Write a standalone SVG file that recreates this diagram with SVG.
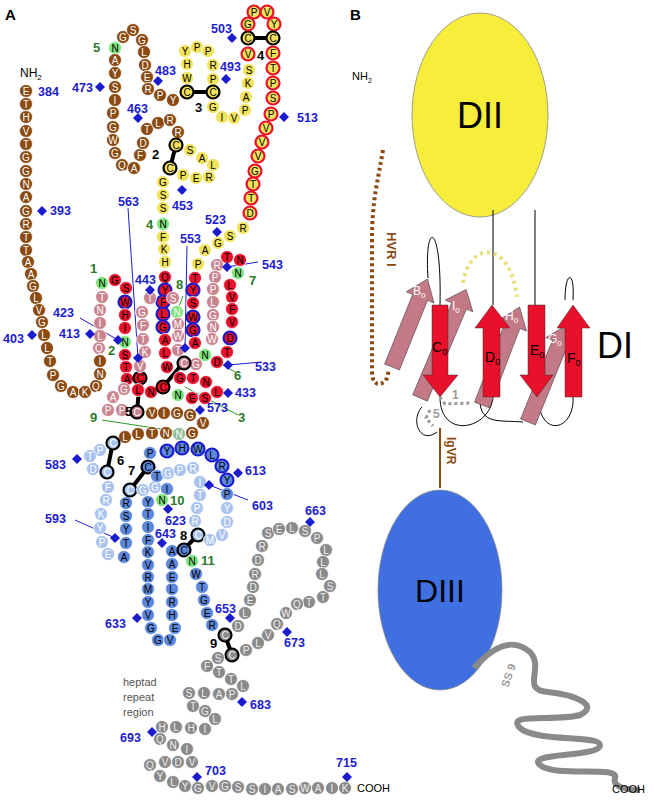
<svg xmlns="http://www.w3.org/2000/svg" width="656" height="800" viewBox="0 0 656 800">
<style>
circle{stroke:#fff;stroke-width:0.8}
.br{fill:#8a4a12}.ye{fill:#f2e35c}.rd{fill:#e8102a}.pk{fill:#c98490}.gn{fill:#7ce37c}.lb{fill:#a9c2ee}.db{fill:#5c87db}.gy{fill:#8a8a8a}.gg{fill:#8fbf9a}
.ob{stroke:#1c1ccf;stroke-width:2.2}.or{stroke:#e8102a;stroke-width:2.2}.ok{stroke:#000;stroke-width:2.2}
text{font-family:"Liberation Sans",Arial,sans-serif}
.l{font-size:10px;text-anchor:middle;dominant-baseline:central}
.w{fill:#fff}.k{fill:#000}.g{fill:#eee}
.n{font-size:12.5px;font-weight:bold;fill:#1c1ccf}
.gl{font-size:13px;font-weight:bold;fill:#2a7a2a}
.bl{font-size:13px;font-weight:bold;fill:#000}
.dm{fill:#1c1ccf}
.ss{stroke:#000;stroke-width:4;stroke-linecap:round}
</style>
<defs><path id="d" d="M0,-5 L5,0 L0,5 L-5,0Z" class="dm"/></defs>
<text x="5" y="20" font-size="15" font-weight="bold">A</text>
<text x="350" y="20" font-size="15" font-weight="bold">B</text>
<text x="20" y="77" font-size="12">NH<tspan font-size="8" dy="3">2</tspan></text>
<g id="connectors">
<g stroke="#1c1ccf" stroke-width="1">
<line x1="80" y1="318" x2="118" y2="340"/><line x1="128" y1="208" x2="138" y2="358"/><line x1="187" y1="246" x2="185" y2="348"/>
<line x1="262" y1="362" x2="228" y2="365"/><line x1="258" y1="262" x2="227" y2="267"/><line x1="75" y1="520" x2="115" y2="538"/><line x1="248" y1="500" x2="209" y2="485"/>
</g>
<g stroke="#2a9a2a" stroke-width="1"><line x1="102" y1="420" x2="180" y2="432"/><line x1="185" y1="387" x2="238" y2="415"/><line x1="205" y1="355" x2="235" y2="372"/><line x1="177" y1="312" x2="183" y2="296"/></g>
<g class="ss"><line x1="176" y1="145" x2="170" y2="168"/><line x1="187" y1="92" x2="213" y2="92"/><line x1="248" y1="38" x2="273" y2="38"/><line x1="140" y1="378" x2="137" y2="412"/><line x1="183" y1="363" x2="163" y2="387"/><line x1="113" y1="442" x2="107" y2="472"/><line x1="148" y1="467" x2="130" y2="490"/><line x1="198" y1="535" x2="183" y2="550"/><line x1="225" y1="635" x2="232" y2="655"/></g>
</g>
<g id="beads">
<g id="nterm">
<circle class="br" cx="26" cy="91" r="6.5"/><text class="l w" x="26" y="91">E</text>
<circle class="br" cx="26" cy="104" r="6.5"/><text class="l w" x="26" y="104">T</text>
<circle class="br" cx="26" cy="117" r="6.5"/><text class="l w" x="26" y="117">H</text>
<circle class="br" cx="26" cy="131" r="6.5"/><text class="l w" x="26" y="131">V</text>
<circle class="br" cx="26" cy="144" r="6.5"/><text class="l w" x="26" y="144">T</text>
<circle class="br" cx="26" cy="157" r="6.5"/><text class="l w" x="26" y="157">G</text>
<circle class="br" cx="26" cy="171" r="6.5"/><text class="l w" x="26" y="171">G</text>
<circle class="br" cx="26" cy="184" r="6.5"/><text class="l w" x="26" y="184">N</text>
<circle class="br" cx="26" cy="197" r="6.5"/><text class="l w" x="26" y="197">A</text>
<circle class="br" cx="26" cy="211" r="6.5"/><text class="l w" x="26" y="211">G</text>
<circle class="br" cx="26" cy="224" r="6.5"/><text class="l w" x="26" y="224">R</text>
<circle class="br" cx="26" cy="237" r="6.5"/><text class="l w" x="26" y="237">T</text>
<circle class="br" cx="26" cy="250" r="6.5"/><text class="l w" x="26" y="250">T</text>
<circle class="br" cx="28" cy="262" r="6.5"/><text class="l w" x="28" y="262">A</text>
<circle class="br" cx="31" cy="274" r="6.5"/><text class="l w" x="31" y="274">A</text>
<circle class="br" cx="33" cy="286" r="6.5"/><text class="l w" x="33" y="286">G</text>
<circle class="br" cx="36" cy="298" r="6.5"/><text class="l w" x="36" y="298">L</text>
<circle class="br" cx="39" cy="310" r="6.5"/><text class="l w" x="39" y="310">V</text>
<circle class="br" cx="42" cy="322" r="6.5"/><text class="l w" x="42" y="322">G</text>
<circle class="br" cx="44" cy="335" r="6.5"/><text class="l w" x="44" y="335">L</text>
<circle class="br" cx="47" cy="348" r="6.5"/><text class="l w" x="47" y="348">L</text>
<circle class="br" cx="50" cy="361" r="6.5"/><text class="l w" x="50" y="361">T</text>
<circle class="br" cx="53" cy="375" r="6.5"/><text class="l w" x="53" y="375">P</text>
<circle class="br" cx="61" cy="386" r="6.5"/><text class="l w" x="61" y="386">G</text>
<circle class="br" cx="73" cy="392" r="6.5"/><text class="l w" x="73" y="392">A</text>
<circle class="br" cx="85" cy="392" r="6.5"/><text class="l w" x="85" y="392">K</text>
<circle class="br" cx="96" cy="386" r="6.5"/><text class="l w" x="96" y="386">Q</text>
<circle class="br" cx="100" cy="374" r="6.5"/><text class="l w" x="100" y="374">N</text>
<circle class="br" cx="100" cy="361" r="6.5"/><text class="l w" x="100" y="361">I</text>
<circle class="pk" cx="99" cy="348" r="6.5"/><text class="l w" x="99" y="348">Q</text>
<circle class="pk" cx="100" cy="336" r="6.5"/><text class="l w" x="100" y="336">L</text>
<circle class="pk" cx="100" cy="323" r="6.5"/><text class="l w" x="100" y="323">I</text>
<circle class="pk" cx="100" cy="310" r="6.5"/><text class="l w" x="100" y="310">N</text>
<circle class="pk" cx="102" cy="297" r="6.5"/><text class="l w" x="102" y="297">T</text>
<circle class="gn" cx="102" cy="283" r="6.5"/><text class="l k" x="102" y="283">N</text>
</g>
<g id="brownloop">
<circle class="gn" cx="115" cy="48" r="6.5"/><text class="l k" x="115" y="48">N</text>
<circle class="br" cx="123" cy="37" r="6.5"/><text class="l w" x="123" y="37">G</text>
<circle class="br" cx="133" cy="30" r="6.5"/><text class="l w" x="133" y="30">S</text>
<circle class="br" cx="142" cy="40" r="6.5"/><text class="l w" x="142" y="40">G</text>
<circle class="br" cx="144" cy="52" r="6.5"/><text class="l w" x="144" y="52">L</text>
<circle class="br" cx="145" cy="65" r="6.5"/><text class="l w" x="145" y="65">D</text>
<circle class="br" cx="147" cy="77" r="6.5"/><text class="l w" x="147" y="77">E</text>
<circle class="br" cx="148" cy="89" r="6.5"/><text class="l w" x="148" y="89">R</text>
<circle class="br" cx="160" cy="95" r="6.5"/><text class="l w" x="160" y="95">P</text>
<circle class="br" cx="173" cy="100" r="6.5"/><text class="l w" x="173" y="100">Y</text>
<circle class="br" cx="115" cy="60" r="6.5"/><text class="l w" x="115" y="60">A</text>
<circle class="br" cx="115" cy="73" r="6.5"/><text class="l w" x="115" y="73">Y</text>
<circle class="br" cx="115" cy="87" r="6.5"/><text class="l w" x="115" y="87">S</text>
<circle class="br" cx="115" cy="100" r="6.5"/><text class="l w" x="115" y="100">I</text>
<circle class="br" cx="113" cy="113" r="6.5"/><text class="l w" x="113" y="113">P</text>
<circle class="br" cx="113" cy="127" r="6.5"/><text class="l w" x="113" y="127">G</text>
<circle class="br" cx="113" cy="140" r="6.5"/><text class="l w" x="113" y="140">W</text>
<circle class="br" cx="115" cy="153" r="6.5"/><text class="l w" x="115" y="153">G</text>
<circle class="br" cx="122" cy="165" r="6.5"/><text class="l w" x="122" y="165">Q</text>
<circle class="br" cx="134" cy="168" r="6.5"/><text class="l w" x="134" y="168">A</text>
<circle class="br" cx="140" cy="155" r="6.5"/><text class="l w" x="140" y="155">F</text>
<circle class="br" cx="143" cy="143" r="6.5"/><text class="l w" x="143" y="143">D</text>
<circle class="br" cx="147" cy="129" r="6.5"/><text class="l w" x="147" y="129">T</text>
<circle class="br" cx="158" cy="123" r="6.5"/><text class="l w" x="158" y="123">L</text>
<circle class="br" cx="170" cy="120" r="6.5"/><text class="l w" x="170" y="120">R</text>
<circle class="br" cx="178" cy="132" r="6.5"/><text class="l w" x="178" y="132">R</text>
</g>
<g id="yellow">
<circle class="ye ok" cx="176" cy="145" r="6.5"/><text class="l k" x="176" y="145">C</text>
<circle class="ye ok" cx="170" cy="168" r="6.5"/><text class="l k" x="170" y="168">C</text>
<circle class="ye" cx="190" cy="150" r="6.5"/><text class="l k" x="190" y="150">S</text>
<circle class="ye" cx="202" cy="158" r="6.5"/><text class="l k" x="202" y="158">A</text>
<circle class="ye" cx="213" cy="165" r="6.5"/><text class="l k" x="213" y="165">L</text>
<circle class="ye" cx="209" cy="177" r="6.5"/><text class="l k" x="209" y="177">R</text>
<circle class="ye" cx="196" cy="178" r="6.5"/><text class="l k" x="196" y="178">E</text>
<circle class="ye" cx="183" cy="175" r="6.5"/><text class="l k" x="183" y="175">P</text>
<circle class="ye" cx="163" cy="182" r="6.5"/><text class="l k" x="163" y="182">G</text>
<circle class="ye" cx="163" cy="195" r="6.5"/><text class="l k" x="163" y="195">S</text>
<circle class="ye" cx="163" cy="208" r="6.5"/><text class="l k" x="163" y="208">S</text>
<circle class="gn" cx="163" cy="224" r="6.5"/><text class="l k" x="163" y="224">N</text>
<circle class="ye" cx="163" cy="237" r="6.5"/><text class="l k" x="163" y="237">F</text>
<circle class="ye" cx="164" cy="249" r="6.5"/><text class="l k" x="164" y="249">K</text>
<circle class="ye" cx="165" cy="262" r="6.5"/><text class="l k" x="165" y="262">H</text>
<circle class="ye" cx="185" cy="51" r="6.5"/><text class="l k" x="185" y="51">Y</text>
<circle class="ye" cx="197" cy="47" r="6.5"/><text class="l k" x="197" y="47">P</text>
<circle class="ye" cx="208" cy="51" r="6.5"/><text class="l k" x="208" y="51">P</text>
<circle class="ye" cx="187" cy="64" r="6.5"/><text class="l k" x="187" y="64">H</text>
<circle class="ye" cx="187" cy="78" r="6.5"/><text class="l k" x="187" y="78">W</text>
<circle class="ye ok" cx="187" cy="92" r="6.5"/><text class="l k" x="187" y="92">C</text>
<circle class="ye" cx="213" cy="65" r="6.5"/><text class="l k" x="213" y="65">R</text>
<circle class="ye" cx="213" cy="79" r="6.5"/><text class="l k" x="213" y="79">P</text>
<circle class="ye ok" cx="213" cy="92" r="6.5"/><text class="l k" x="213" y="92">C</text>
<circle class="ye" cx="213" cy="107" r="6.5"/><text class="l k" x="213" y="107">G</text>
<circle class="ye" cx="222" cy="117" r="6.5"/><text class="l k" x="222" y="117">I</text>
<circle class="ye" cx="234" cy="118" r="6.5"/><text class="l k" x="234" y="118">V</text>
<circle class="ye" cx="245" cy="110" r="6.5"/><text class="l k" x="245" y="110">P</text>
<circle class="ye" cx="246" cy="97" r="6.5"/><text class="l k" x="246" y="97">A</text>
<circle class="ye" cx="248" cy="83" r="6.5"/><text class="l k" x="248" y="83">K</text>
<circle class="ye" cx="249" cy="70" r="6.5"/><text class="l k" x="249" y="70">S</text>
<circle class="ye or" cx="248" cy="54" r="6.5"/><text class="l k" x="248" y="54">V</text>
<circle class="ye ok" cx="248" cy="38" r="6.5"/><text class="l k" x="248" y="38">C</text>
<circle class="ye or" cx="248" cy="24" r="6.5"/><text class="l k" x="248" y="24">G</text>
<circle class="ye or" cx="254" cy="12" r="6.5"/><text class="l k" x="254" y="12">P</text>
<circle class="ye or" cx="267" cy="12" r="6.5"/><text class="l k" x="267" y="12">V</text>
<circle class="ye or" cx="274" cy="24" r="6.5"/><text class="l k" x="274" y="24">Y</text>
<circle class="ye ok" cx="273" cy="38" r="6.5"/><text class="l k" x="273" y="38">C</text>
<circle class="ye or" cx="273" cy="53" r="6.5"/><text class="l k" x="273" y="53">F</text>
<circle class="ye or" cx="273" cy="68" r="6.5"/><text class="l k" x="273" y="68">T</text>
<circle class="ye or" cx="273" cy="83" r="6.5"/><text class="l k" x="273" y="83">P</text>
<circle class="ye or" cx="273" cy="98" r="6.5"/><text class="l k" x="273" y="98">S</text>
<circle class="ye or" cx="271" cy="114" r="6.5"/><text class="l k" x="271" y="114">P</text>
<circle class="ye or" cx="266" cy="128" r="6.5"/><text class="l k" x="266" y="128">V</text>
<circle class="ye or" cx="262" cy="142" r="6.5"/><text class="l k" x="262" y="142">V</text>
<circle class="ye or" cx="258" cy="156" r="6.5"/><text class="l k" x="258" y="156">V</text>
<circle class="ye or" cx="255" cy="171" r="6.5"/><text class="l k" x="255" y="171">G</text>
<circle class="ye or" cx="253" cy="184" r="6.5"/><text class="l k" x="253" y="184">T</text>
<circle class="ye or" cx="251" cy="198" r="6.5"/><text class="l k" x="251" y="198">T</text>
<circle class="ye or" cx="250" cy="213" r="6.5"/><text class="l k" x="250" y="213">D</text>
<circle class="ye" cx="243" cy="228" r="6.5"/><text class="l k" x="243" y="228">R</text>
<circle class="ye" cx="230" cy="236" r="6.5"/><text class="l k" x="230" y="236">S</text>
<circle class="ye" cx="218" cy="243" r="6.5"/><text class="l k" x="218" y="243">G</text>
<circle class="ye" cx="205" cy="250" r="6.5"/><text class="l k" x="205" y="250">A</text>
<circle class="ye" cx="198" cy="264" r="6.5"/><text class="l k" x="198" y="264">P</text>
</g>
<g id="di">
<circle class="rd" cx="115" cy="280" r="6.5"/><text class="l k" x="115" y="280">G</text>
<circle class="rd" cx="126" cy="288" r="6.5"/><text class="l k" x="126" y="288">S</text>
<circle class="rd ob" cx="125" cy="302" r="6.5"/><text class="l k" x="125" y="302">W</text>
<circle class="rd" cx="125" cy="315" r="6.5"/><text class="l k" x="125" y="315">H</text>
<circle class="rd" cx="125" cy="328" r="6.5"/><text class="l k" x="125" y="328">I</text>
<circle class="gn" cx="125" cy="342" r="6.5"/><text class="l k" x="125" y="342">N</text>
<circle class="rd" cx="125" cy="355" r="6.5"/><text class="l k" x="125" y="355">S</text>
<circle class="rd" cx="126" cy="367" r="6.5"/><text class="l k" x="126" y="367">T</text>
<circle class="rd" cx="127" cy="379" r="6.5"/><text class="l k" x="127" y="379">A</text>
<circle class="rd ok" cx="140" cy="378" r="6.5"/><text class="l k" x="140" y="378">C</text>
<circle class="rd" cx="138" cy="390" r="6.5"/><text class="l k" x="138" y="390">L</text>
<circle class="rd" cx="151" cy="392" r="6.5"/><text class="l k" x="151" y="392">N</text>
<circle class="rd ok" cx="163" cy="387" r="6.5" fill="#b00018"/><text class="l k" x="163" y="387">C</text>
<circle class="rd" cx="180" cy="378" r="6.5"/><text class="l k" x="180" y="378">G</text>
<circle class="rd" cx="193" cy="378" r="6.5"/><text class="l k" x="193" y="378">T</text>
<circle class="rd" cx="206" cy="382" r="6.5"/><text class="l k" x="206" y="382">N</text>
<circle class="rd" cx="217" cy="392" r="6.5"/><text class="l k" x="217" y="392">L</text>
<circle class="rd" cx="205" cy="398" r="6.5"/><text class="l k" x="205" y="398">S</text>
<circle class="rd" cx="192" cy="398" r="6.5"/><text class="l k" x="192" y="398">E</text>
<circle class="gn" cx="178" cy="395" r="6.5"/><text class="l k" x="178" y="395">N</text>
<circle class="pk" cx="124" cy="389" r="6.5"/><text class="l w" x="124" y="389">G</text>
<circle class="pk" cx="113" cy="397" r="6.5"/><text class="l w" x="113" y="397">A</text>
<circle class="pk" cx="108" cy="410" r="6.5"/><text class="l w" x="108" y="410">P</text>
<circle class="pk" cx="122" cy="410" r="6.5"/><text class="l w" x="122" y="410">P</text>
<circle class="pk ok" cx="137" cy="412" r="6.5"/><text class="l w" x="137" y="412">C</text>
<circle class="rd" cx="165" cy="277" r="6.5"/><text class="l k" x="165" y="277">Q</text>
<circle class="rd ob" cx="165" cy="290" r="6.5"/><text class="l k" x="165" y="290">Y</text>
<circle class="rd ob" cx="163" cy="302" r="6.5"/><text class="l k" x="163" y="302">F</text>
<circle class="rd ob" cx="163" cy="314" r="6.5"/><text class="l k" x="163" y="314">L</text>
<circle class="rd ob" cx="163" cy="327" r="6.5"/><text class="l k" x="163" y="327">G</text>
<circle class="rd" cx="165" cy="340" r="6.5"/><text class="l k" x="165" y="340">A</text>
<circle class="rd" cx="165" cy="353" r="6.5"/><text class="l k" x="165" y="353">L</text>
<circle class="rd" cx="167" cy="367" r="6.5"/><text class="l k" x="167" y="367">W</text>
<circle class="rd" cx="195" cy="278" r="6.5"/><text class="l k" x="195" y="278">T</text>
<circle class="rd ob" cx="193" cy="290" r="6.5"/><text class="l k" x="193" y="290">Y</text>
<circle class="rd" cx="193" cy="303" r="6.5"/><text class="l k" x="193" y="303">S</text>
<circle class="rd ob" cx="193" cy="317" r="6.5"/><text class="l k" x="193" y="317">W</text>
<circle class="rd ob" cx="193" cy="330" r="6.5"/><text class="l k" x="193" y="330">G</text>
<circle class="rd" cx="195" cy="343" r="6.5"/><text class="l k" x="195" y="343">A</text>
<circle class="pk" cx="150" cy="298" r="6.5"/><text class="l w" x="150" y="298">T</text>
<circle class="pk" cx="173" cy="298" r="6.5"/><text class="l w" x="173" y="298">S</text>
<circle class="gn" cx="177" cy="312" r="6.5"/><text class="l w" x="177" y="312">N</text>
<circle class="pk" cx="142" cy="312" r="6.5"/><text class="l w" x="142" y="312">G</text>
<circle class="pk" cx="143" cy="325" r="6.5"/><text class="l w" x="143" y="325">F</text>
<circle class="pk" cx="143" cy="339" r="6.5"/><text class="l w" x="143" y="339">T</text>
<circle class="pk" cx="145" cy="352" r="6.5"/><text class="l w" x="145" y="352">K</text>
<circle class="pk" cx="140" cy="366" r="6.5"/><text class="l w" x="140" y="366">V</text>
<circle class="pk" cx="178" cy="324" r="6.5"/><text class="l w" x="178" y="324">M</text>
<circle class="pk" cx="178" cy="336" r="6.5"/><text class="l w" x="178" y="336">W</text>
<circle class="pk" cx="178" cy="350" r="6.5"/><text class="l w" x="178" y="350">T</text>
<circle class="rd" cx="227" cy="257" r="6.5"/><text class="l k" x="227" y="257">T</text>
<circle class="rd" cx="240" cy="260" r="6.5"/><text class="l k" x="240" y="260">N</text>
<circle class="gn" cx="238" cy="273" r="6.5"/><text class="l k" x="238" y="273">N</text>
<circle class="pk" cx="217" cy="265" r="6.5"/><text class="l w" x="217" y="265">R</text>
<circle class="pk" cx="215" cy="277" r="6.5"/><text class="l w" x="215" y="277">P</text>
<circle class="pk" cx="213" cy="289" r="6.5"/><text class="l w" x="213" y="289">P</text>
<circle class="pk" cx="213" cy="302" r="6.5"/><text class="l w" x="213" y="302">L</text>
<circle class="pk" cx="213" cy="315" r="6.5"/><text class="l w" x="213" y="315">G</text>
<circle class="pk" cx="213" cy="327" r="6.5"/><text class="l w" x="213" y="327">N</text>
<circle class="pk" cx="212" cy="339" r="6.5"/><text class="l w" x="212" y="339">W</text>
<circle class="rd" cx="230" cy="285" r="6.5"/><text class="l k" x="230" y="285">L</text>
<circle class="rd" cx="232" cy="297" r="6.5"/><text class="l k" x="232" y="297">V</text>
<circle class="rd" cx="232" cy="309" r="6.5"/><text class="l k" x="232" y="309">F</text>
<circle class="rd" cx="232" cy="322" r="6.5"/><text class="l k" x="232" y="322">V</text>
<circle class="rd ob" cx="230" cy="338" r="6.5"/><text class="l k" x="230" y="338">D</text>
<circle class="rd" cx="227" cy="352" r="6.5"/><text class="l k" x="227" y="352">T</text>
<circle class="rd" cx="217" cy="362" r="6.5"/><text class="l k" x="217" y="362">D</text>
<circle class="gn" cx="205" cy="355" r="6.5"/><text class="l k" x="205" y="355">N</text>
<circle class="pk" cx="196" cy="364" r="6.5"/><text class="l w" x="196" y="364">G</text>
<circle class="pk ok" cx="184" cy="363" r="6.5"/><text class="l w" x="184" y="363">C</text>
</g>
<g id="linker">
<circle class="br" cx="152" cy="413" r="6.5"/><text class="l w" x="152" y="413">V</text>
<circle class="br" cx="164" cy="413" r="6.5"/><text class="l w" x="164" y="413">I</text>
<circle class="br" cx="177" cy="413" r="6.5"/><text class="l w" x="177" y="413">G</text>
<circle class="br" cx="190" cy="415" r="6.5"/><text class="l w" x="190" y="415">G</text>
<circle class="br" cx="203" cy="423" r="6.5"/><text class="l w" x="203" y="423">V</text>
<circle class="br" cx="192" cy="433" r="6.5"/><text class="l w" x="192" y="433">G</text>
<circle class="gg" cx="179" cy="434" r="6.5"/><text class="l w" x="179" y="434">N</text>
<circle class="br" cx="166" cy="433" r="6.5"/><text class="l w" x="166" y="433">N</text>
<circle class="br" cx="152" cy="433" r="6.5"/><text class="l w" x="152" y="433">T</text>
<circle class="br" cx="138" cy="434" r="6.5"/><text class="l w" x="138" y="434">L</text>
<circle class="br" cx="125" cy="437" r="6.5"/><text class="l w" x="125" y="437">L</text>
</g>
<g id="diii">
<circle class="lb ok" cx="113" cy="443" r="6.5"/><text class="l w" x="113" y="443">C</text>
<circle class="lb" cx="100" cy="450" r="6.5"/><text class="l w" x="100" y="450">P</text>
<circle class="lb" cx="90" cy="456" r="6.5"/><text class="l w" x="90" y="456">T</text>
<circle class="lb" cx="93" cy="469" r="6.5"/><text class="l w" x="93" y="469">D</text>
<circle class="lb ok" cx="107" cy="472" r="6.5"/><text class="l w" x="107" y="472">C</text>
<circle class="lb" cx="108" cy="487" r="6.5"/><text class="l w" x="108" y="487">F</text>
<circle class="lb" cx="106" cy="500" r="6.5"/><text class="l w" x="106" y="500">R</text>
<circle class="lb" cx="101" cy="514" r="6.5"/><text class="l w" x="101" y="514">K</text>
<circle class="lb" cx="100" cy="528" r="6.5"/><text class="l w" x="100" y="528">Y</text>
<circle class="lb" cx="102" cy="542" r="6.5"/><text class="l w" x="102" y="542">P</text>
<circle class="lb" cx="108" cy="554" r="6.5"/><text class="l w" x="108" y="554">E</text>
<circle class="db" cx="124" cy="557" r="6.5"/><text class="l k" x="124" y="557">A</text>
<circle class="db" cx="126" cy="543" r="6.5"/><text class="l k" x="126" y="543">T</text>
<circle class="db" cx="126" cy="529" r="6.5"/><text class="l k" x="126" y="529">Y</text>
<circle class="db" cx="126" cy="516" r="6.5"/><text class="l k" x="126" y="516">S</text>
<circle class="db" cx="126" cy="503" r="6.5"/><text class="l k" x="126" y="503">R</text>
<circle class="lb ok" cx="130" cy="490" r="6.5"/><text class="l w" x="130" y="490">C</text>
<circle class="db ok" cx="148" cy="467" r="6.5"/><text class="l k" x="148" y="467">C</text>
<circle class="lb" cx="143" cy="490" r="6.5"/><text class="l w" x="143" y="490">G</text>
<circle class="lb" cx="155" cy="487" r="6.5"/><text class="l w" x="155" y="487">G</text>
<circle class="db" cx="157" cy="476" r="6.5"/><text class="l k" x="157" y="476">T</text>
<circle class="lb" cx="168" cy="473" r="6.5"/><text class="l w" x="168" y="473">G</text>
<circle class="lb" cx="180" cy="470" r="6.5"/><text class="l w" x="180" y="470">P</text>
<circle class="lb" cx="193" cy="468" r="6.5"/><text class="l w" x="193" y="468">R</text>
<circle class="lb" cx="200" cy="482" r="6.5"/><text class="l w" x="200" y="482">I</text>
<circle class="lb" cx="200" cy="495" r="6.5"/><text class="l w" x="200" y="495">T</text>
<circle class="lb" cx="197" cy="508" r="6.5"/><text class="l w" x="197" y="508">P</text>
<circle class="lb" cx="195" cy="521" r="6.5"/><text class="l w" x="195" y="521">R</text>
<circle class="lb ok" cx="198" cy="535" r="6.5"/><text class="l w" x="198" y="535">C</text>
<circle class="lb" cx="210" cy="540" r="6.5"/><text class="l w" x="210" y="540">M</text>
<circle class="lb" cx="222" cy="535" r="6.5"/><text class="l w" x="222" y="535">V</text>
<circle class="lb" cx="227" cy="522" r="6.5"/><text class="l w" x="227" y="522">D</text>
<circle class="lb" cx="227" cy="508" r="6.5"/><text class="l w" x="227" y="508">Y</text>
<circle class="db" cx="227" cy="494" r="6.5"/><text class="l k" x="227" y="494">P</text>
<circle class="db ob" cx="227" cy="480" r="6.5"/><text class="l k" x="227" y="480">Y</text>
<circle class="db ob" cx="222" cy="466" r="6.5"/><text class="l k" x="222" y="466">R</text>
<circle class="db ob" cx="212" cy="455" r="6.5"/><text class="l k" x="212" y="455">L</text>
<circle class="db ob" cx="198" cy="449" r="6.5"/><text class="l k" x="198" y="449">W</text>
<circle class="db ob" cx="182" cy="448" r="6.5"/><text class="l k" x="182" y="448">H</text>
<circle class="db ob" cx="167" cy="451" r="6.5"/><text class="l k" x="167" y="451">Y</text>
<circle class="db" cx="150" cy="453" r="6.5"/><text class="l k" x="150" y="453">P</text>
<circle class="db" cx="167" cy="489" r="6.5"/><text class="l k" x="167" y="489">I</text>
<circle class="gn" cx="162" cy="500" r="6.5"/><text class="l k" x="162" y="500">N</text>
<circle class="db" cx="148" cy="502" r="6.5"/><text class="l k" x="148" y="502">Y</text>
<circle class="db" cx="148" cy="514" r="6.5"/><text class="l k" x="148" y="514">T</text>
<circle class="db" cx="148" cy="527" r="6.5"/><text class="l k" x="148" y="527">I</text>
<circle class="db" cx="148" cy="540" r="6.5"/><text class="l k" x="148" y="540">F</text>
<circle class="db" cx="148" cy="552" r="6.5"/><text class="l k" x="148" y="552">K</text>
<circle class="db" cx="148" cy="565" r="6.5"/><text class="l k" x="148" y="565">V</text>
<circle class="db" cx="148" cy="577" r="6.5"/><text class="l k" x="148" y="577">R</text>
<circle class="db" cx="148" cy="589" r="6.5"/><text class="l k" x="148" y="589">M</text>
<circle class="db" cx="148" cy="602" r="6.5"/><text class="l k" x="148" y="602">Y</text>
<circle class="db" cx="148" cy="615" r="6.5"/><text class="l k" x="148" y="615">V</text>
<circle class="db" cx="151" cy="628" r="6.5"/><text class="l k" x="151" y="628">G</text>
<circle class="db" cx="158" cy="640" r="6.5"/><text class="l k" x="158" y="640">G</text>
<circle class="db" cx="170" cy="640" r="6.5"/><text class="l k" x="170" y="640">V</text>
<circle class="db" cx="175" cy="628" r="6.5"/><text class="l k" x="175" y="628">E</text>
<circle class="db" cx="172" cy="615" r="6.5"/><text class="l k" x="172" y="615">H</text>
<circle class="db" cx="172" cy="602" r="6.5"/><text class="l k" x="172" y="602">R</text>
<circle class="db" cx="172" cy="589" r="6.5"/><text class="l k" x="172" y="589">L</text>
<circle class="db" cx="172" cy="577" r="6.5"/><text class="l k" x="172" y="577">E</text>
<circle class="db" cx="172" cy="564" r="6.5"/><text class="l k" x="172" y="564">A</text>
<circle class="db" cx="172" cy="551" r="6.5"/><text class="l k" x="172" y="551">A</text>
<circle class="db ok" cx="184" cy="550" r="6.5"/><text class="l k" x="184" y="550">C</text>
<circle class="gn" cx="192" cy="561" r="6.5"/><text class="l k" x="192" y="561">N</text>
<circle class="db" cx="196" cy="574" r="6.5"/><text class="l k" x="196" y="574">W</text>
<circle class="db" cx="202" cy="587" r="6.5"/><text class="l k" x="202" y="587">T</text>
<circle class="db" cx="204" cy="600" r="6.5"/><text class="l k" x="204" y="600">G</text>
<circle class="db" cx="207" cy="613" r="6.5"/><text class="l k" x="207" y="613">E</text>
<circle class="db" cx="212" cy="625" r="6.5"/><text class="l k" x="212" y="625">R</text>
</g>
<g id="cterm">
<circle class="gy ok" cx="225" cy="635" r="6.5"/><text class="l g" x="225" y="635">C</text>
<circle class="gy ok" cx="232" cy="655" r="6.5"/><text class="l g" x="232" y="655">C</text>
<circle class="gy" cx="238" cy="626" r="6.5"/><text class="l g" x="238" y="626">D</text>
<circle class="gy" cx="245" cy="613" r="6.5"/><text class="l g" x="245" y="613">L</text>
<circle class="gy" cx="250" cy="600" r="6.5"/><text class="l g" x="250" y="600">E</text>
<circle class="gy" cx="253" cy="587" r="6.5"/><text class="l g" x="253" y="587">D</text>
<circle class="gy" cx="255" cy="574" r="6.5"/><text class="l g" x="255" y="574">R</text>
<circle class="gy" cx="258" cy="560" r="6.5"/><text class="l g" x="258" y="560">D</text>
<circle class="gy" cx="262" cy="546" r="6.5"/><text class="l g" x="262" y="546">R</text>
<circle class="gy" cx="268" cy="533" r="6.5"/><text class="l g" x="268" y="533">S</text>
<circle class="gy" cx="279" cy="529" r="6.5"/><text class="l g" x="279" y="529">E</text>
<circle class="gy" cx="292" cy="528" r="6.5"/><text class="l g" x="292" y="528">L</text>
<circle class="gy" cx="305" cy="531" r="6.5"/><text class="l g" x="305" y="531">S</text>
<circle class="gy" cx="317" cy="538" r="6.5"/><text class="l g" x="317" y="538">P</text>
<circle class="gy" cx="326" cy="550" r="6.5"/><text class="l g" x="326" y="550">L</text>
<circle class="gy" cx="323" cy="562" r="6.5"/><text class="l g" x="323" y="562">L</text>
<circle class="gy" cx="322" cy="574" r="6.5"/><text class="l g" x="322" y="574">L</text>
<circle class="gy" cx="330" cy="586" r="6.5"/><text class="l g" x="330" y="586">S</text>
<circle class="gy" cx="323" cy="597" r="6.5"/><text class="l g" x="323" y="597">T</text>
<circle class="gy" cx="309" cy="602" r="6.5"/><text class="l g" x="309" y="602">T</text>
<circle class="gy" cx="297" cy="604" r="6.5"/><text class="l g" x="297" y="604">Q</text>
<circle class="gy" cx="286" cy="613" r="6.5"/><text class="l g" x="286" y="613">W</text>
<circle class="gy" cx="277" cy="624" r="6.5"/><text class="l g" x="277" y="624">Q</text>
<circle class="gy" cx="268" cy="635" r="6.5"/><text class="l g" x="268" y="635">V</text>
<circle class="gy" cx="258" cy="643" r="6.5"/><text class="l g" x="258" y="643">L</text>
<circle class="gy" cx="246" cy="650" r="6.5"/><text class="l g" x="246" y="650">P</text>
<circle class="gy" cx="218" cy="658" r="6.5"/><text class="l g" x="218" y="658">S</text>
<circle class="gy" cx="207" cy="666" r="6.5"/><text class="l g" x="207" y="666">F</text>
<circle class="gy" cx="219" cy="672" r="6.5"/><text class="l g" x="219" y="672">T</text>
<circle class="gy" cx="231" cy="679" r="6.5"/><text class="l g" x="231" y="679">T</text>
<circle class="gy" cx="243" cy="686" r="6.5"/><text class="l g" x="243" y="686">L</text>
<circle class="gy" cx="232" cy="694" r="6.5"/><text class="l g" x="232" y="694">P</text>
<circle class="gy" cx="219" cy="694" r="6.5"/><text class="l g" x="219" y="694">A</text>
<circle class="gy" cx="204" cy="693" r="6.5"/><text class="l g" x="204" y="693">L</text>
<circle class="gy" cx="189" cy="693" r="6.5"/><text class="l g" x="189" y="693">S</text>
<circle class="gy" cx="193" cy="706" r="6.5"/><text class="l g" x="193" y="706">T</text>
<circle class="gy" cx="205" cy="711" r="6.5"/><text class="l g" x="205" y="711">G</text>
<circle class="gy" cx="215" cy="719" r="6.5"/><text class="l g" x="215" y="719">L</text>
<circle class="gy" cx="205" cy="729" r="6.5"/><text class="l g" x="205" y="729">I</text>
<circle class="gy" cx="191" cy="728" r="6.5"/><text class="l g" x="191" y="728">H</text>
<circle class="gy" cx="176" cy="727" r="6.5"/><text class="l g" x="176" y="727">L</text>
<circle class="gy" cx="162" cy="727" r="6.5"/><text class="l g" x="162" y="727">H</text>
<circle class="gy" cx="160" cy="739" r="6.5"/><text class="l g" x="160" y="739">Q</text>
<circle class="gy" cx="173" cy="745" r="6.5"/><text class="l g" x="173" y="745">N</text>
<circle class="gy" cx="187" cy="749" r="6.5"/><text class="l g" x="187" y="749">I</text>
<circle class="gy" cx="192" cy="762" r="6.5"/><text class="l g" x="192" y="762">V</text>
<circle class="gy" cx="178" cy="762" r="6.5"/><text class="l g" x="178" y="762">D</text>
<circle class="gy" cx="165" cy="762" r="6.5"/><text class="l g" x="165" y="762">V</text>
<circle class="gy" cx="150" cy="765" r="6.5"/><text class="l g" x="150" y="765">Q</text>
<circle class="gy" cx="160" cy="776" r="6.5"/><text class="l g" x="160" y="776">Y</text>
<circle class="gy" cx="173" cy="782" r="6.5"/><text class="l g" x="173" y="782">L</text>
<circle class="gy" cx="185" cy="786" r="6.5"/><text class="l g" x="185" y="786">Y</text>
<circle class="gy" cx="198" cy="788" r="6.5"/><text class="l g" x="198" y="788">G</text>
<circle class="gy" cx="212" cy="786" r="6.5"/><text class="l g" x="212" y="786">V</text>
<circle class="gy" cx="225" cy="786" r="6.5"/><text class="l g" x="225" y="786">G</text>
<circle class="gy" cx="238" cy="787" r="6.5"/><text class="l g" x="238" y="787">S</text>
<circle class="gy" cx="252" cy="789" r="6.5"/><text class="l g" x="252" y="789">S</text>
<circle class="gy" cx="265" cy="789" r="6.5"/><text class="l g" x="265" y="789">I</text>
<circle class="gy" cx="278" cy="789" r="6.5"/><text class="l g" x="278" y="789">A</text>
<circle class="gy" cx="292" cy="789" r="6.5"/><text class="l g" x="292" y="789">S</text>
<circle class="gy" cx="305" cy="788" r="6.5"/><text class="l g" x="305" y="788">W</text>
<circle class="gy" cx="318" cy="788" r="6.5"/><text class="l g" x="318" y="788">A</text>
<circle class="gy" cx="332" cy="788" r="6.5"/><text class="l g" x="332" y="788">I</text>
<circle class="gy" cx="345" cy="788" r="6.5"/><text class="l g" x="345" y="788">K</text>
</g>
</g>
<g id="labels">
<text x="357" y="792" font-size="11">COOH</text>
<text x="123" y="686" font-size="11" fill="#555">heptad</text><text x="123" y="701" font-size="11" fill="#555">repeat</text><text x="123" y="716" font-size="11" fill="#555">region</text>
<text class="n" x="38" y="96">384</text>
<use href="#d" x="42" y="211"/><text class="n" x="50" y="215">393</text>
<use href="#d" x="32" y="335"/><text class="n" x="3" y="343">403</text>
<use href="#d" x="90" y="334"/><text class="n" x="59" y="338">413</text>
<use href="#d" x="118" y="340"/><text class="n" x="53" y="317">423</text>
<use href="#d" x="228" y="393"/><text class="n" x="235" y="397">433</text>
<use href="#d" x="150" y="290"/><text class="n" x="135" y="284">443</text>
<use href="#d" x="182" y="190"/><text class="n" x="172" y="210">453</text>
<use href="#d" x="138" y="118"/><text class="n" x="127" y="113">463</text>
<use href="#d" x="100" y="87"/><text class="n" x="72" y="92">473</text>
<use href="#d" x="158" y="81"/><text class="n" x="155" y="75">483</text>
<use href="#d" x="226" y="79"/><text class="n" x="220" y="71">493</text>
<use href="#d" x="232" y="38"/><text class="n" x="211" y="33">503</text>
<use href="#d" x="284" y="117"/><text class="n" x="297" y="122">513</text>
<use href="#d" x="217" y="232"/><text class="n" x="205" y="224">523</text>
<use href="#d" x="228" y="365"/><text class="n" x="255" y="371">533</text>
<use href="#d" x="227" y="267"/><text class="n" x="262" y="269">543</text>
<use href="#d" x="185" y="348"/><text class="n" x="180" y="243">553</text>
<use href="#d" x="138" y="358"/><text class="n" x="118" y="206">563</text>
<use href="#d" x="200" y="410"/><text class="n" x="207" y="412">573</text>
<use href="#d" x="77" y="459"/><text class="n" x="45" y="469">583</text>
<use href="#d" x="115" y="538"/><text class="n" x="45" y="523">593</text>
<use href="#d" x="209" y="485"/><text class="n" x="252" y="510">603</text>
<use href="#d" x="238" y="473"/><text class="n" x="245" y="475">613</text>
<use href="#d" x="168" y="509"/><text class="n" x="165" y="525">623</text>
<use href="#d" x="137" y="618"/><text class="n" x="105" y="628">633</text>
<use href="#d" x="162" y="543"/><text class="n" x="155" y="538">643</text>
<use href="#d" x="230" y="618"/><text class="n" x="215" y="613">653</text>
<use href="#d" x="310" y="522"/><text class="n" x="305" y="515">663</text>
<use href="#d" x="287" y="632"/><text class="n" x="284" y="647">673</text>
<use href="#d" x="242" y="702"/><text class="n" x="250" y="709">683</text>
<use href="#d" x="152" y="732"/><text class="n" x="120" y="742">693</text>
<use href="#d" x="197" y="777"/><text class="n" x="205" y="775">703</text>
<use href="#d" x="347" y="777"/><text class="n" x="336" y="767">715</text>
<text class="gl" x="90" y="273">1</text><text class="gl" x="108" y="355">2</text><text class="gl" x="238" y="422">3</text>
<text class="gl" x="146" y="229">4</text><text class="gl" x="93" y="52">5</text><text class="gl" x="234" y="380">6</text>
<text class="gl" x="249" y="285">7</text><text class="gl" x="176" y="289">8</text><text class="gl" x="90" y="422">9</text>
<text class="gl" x="170" y="505">10</text><text class="gl" x="201" y="565">11</text>
<text class="bl" x="152" y="159">2</text><text class="bl" x="195" y="112">3</text><text class="bl" x="257" y="60">4</text>
<text class="bl" x="125" y="416">5</text><text class="bl" x="117" y="465">6</text><text class="bl" x="128" y="475">7</text>
<text class="bl" x="180" y="540">8</text><text class="bl" x="210" y="648">9</text>
</g>
<g id="panelB">
<ellipse cx="480" cy="115" rx="68" ry="102" fill="#f7ee3c" stroke="#888" stroke-width="0.8"/>
<text x="480" y="128" font-size="36" text-anchor="middle">DII</text>
<text x="352" y="80" font-size="11">NH<tspan font-size="7" dy="3">2</tspan></text>
<path d="M383,150 C378,180 372,200 372,240 L372,370 Q372,390 386,381 L389,370" fill="none" stroke="#8a4a12" stroke-width="4" stroke-dasharray="3,3"/>
<text x="0" y="0" font-size="13" font-weight="bold" fill="#8a4a12" transform="translate(387,232) rotate(90)">HVR I</text>
<g fill="none" stroke="#000" stroke-width="1">
<line x1="493" y1="210" x2="493" y2="305"/><line x1="535" y1="210" x2="535" y2="305"/>
<path d="M428,278 C424,220 442,220 440,305"/>
<path d="M565,300 C565,270 575,270 573,300"/>
<path d="M440,397 C440,440 490,430 493,397"/>
<path d="M480,400 C480,425 500,420 523,422"/>
<path d="M538,397 C540,440 575,430 573,397"/>
<path d="M422,407 C410,420 420,445 437,432"/>
</g>
<path d="M463,283 C470,240 510,240 517,297" fill="none" stroke="#e8e07a" stroke-width="4" stroke-dasharray="3,4"/>
<g fill="#c47a86" stroke="#333" stroke-width="0.5">
<polygon points="-8,0 8,0 8,-75 15,-75 0,-95 -15,-75 -8,-75" transform="translate(392,367) rotate(22)"/>
<polygon points="-8,0 8,0 8,-100 15,-100 0,-118 -15,-100 -8,-100" transform="translate(420,398) rotate(23)"/>
<polygon points="-8,0 8,0 8,-85 15,-85 0,-105 -15,-85 -8,-85" transform="translate(482,405) rotate(21)"/>
<polygon points="-8,0 8,0 8,-85 15,-85 0,-105 -15,-85 -8,-85" transform="translate(528,422) rotate(22)"/>
</g>
<g fill="#e8102a" stroke="#333" stroke-width="0.5">
<polygon points="432,305 448,305 448,375 458,375 440,397 423,375 432,375"/>
<polygon points="483,397 500,397 500,328 510,328 492,305 475,328 483,328"/>
<polygon points="528,305 545,305 545,375 553,375 537,397 520,375 528,375"/>
<polygon points="565,397 582,397 582,328 590,328 573,305 557,328 565,328"/>
</g>
<g font-size="12" fill="#fff"><text x="413" y="295">B<tspan font-size="8" dy="3">0</tspan></text><text x="452" y="310">I<tspan font-size="8" dy="3">0</tspan></text><text x="505" y="320">H<tspan font-size="8" dy="3">0</tspan></text><text x="548" y="343">G<tspan font-size="8" dy="3">0</tspan></text></g>
<g font-size="14" fill="#000"><text x="432" y="352">C<tspan font-size="9" dy="3">0</tspan></text><text x="485" y="362">D<tspan font-size="9" dy="3">0</tspan></text><text x="530" y="355">E<tspan font-size="9" dy="3">0</tspan></text><text x="567" y="363">F<tspan font-size="9" dy="3">0</tspan></text></g>
<text x="597" y="358" font-size="36">DI</text>
<path d="M440,397 L445,404 L470,403" fill="none" stroke="#999" stroke-width="3" stroke-dasharray="3,3"/>
<text x="452" y="399" font-size="12" font-weight="bold" fill="#999">1</text>
<path d="M430,410 L426,418 L433,426" fill="none" stroke="#999" stroke-width="3" stroke-dasharray="3,3"/>
<text x="433" y="418" font-size="12" font-weight="bold" fill="#999">5</text>
<line x1="440" y1="428" x2="440" y2="488" stroke="#8a4a12" stroke-width="2"/>
<text font-size="12" font-weight="bold" fill="#8a4a12" transform="translate(447,437) rotate(90)">IgVR</text>
<ellipse cx="440" cy="590" rx="62" ry="100" fill="#3f6fe0" stroke="#888" stroke-width="0.8"/>
<text x="440" y="602" font-size="32" text-anchor="middle">DIII</text>
<path d="M474,668 C490,650 510,635 530,652 C545,668 520,690 548,692 C575,695 600,705 580,715 C555,722 505,712 520,728 C535,742 600,735 600,745 C600,758 525,752 540,765 C555,778 620,765 615,778 C612,788 630,790 640,790" fill="none" stroke="#8a8a8a" stroke-width="6" stroke-linejoin="round"/>
<text font-size="11" font-weight="bold" fill="#999" transform="translate(508,688) rotate(-70)">SS 9</text>
<text x="612" y="793" font-size="11">COOH</text>
</g>
</svg>
